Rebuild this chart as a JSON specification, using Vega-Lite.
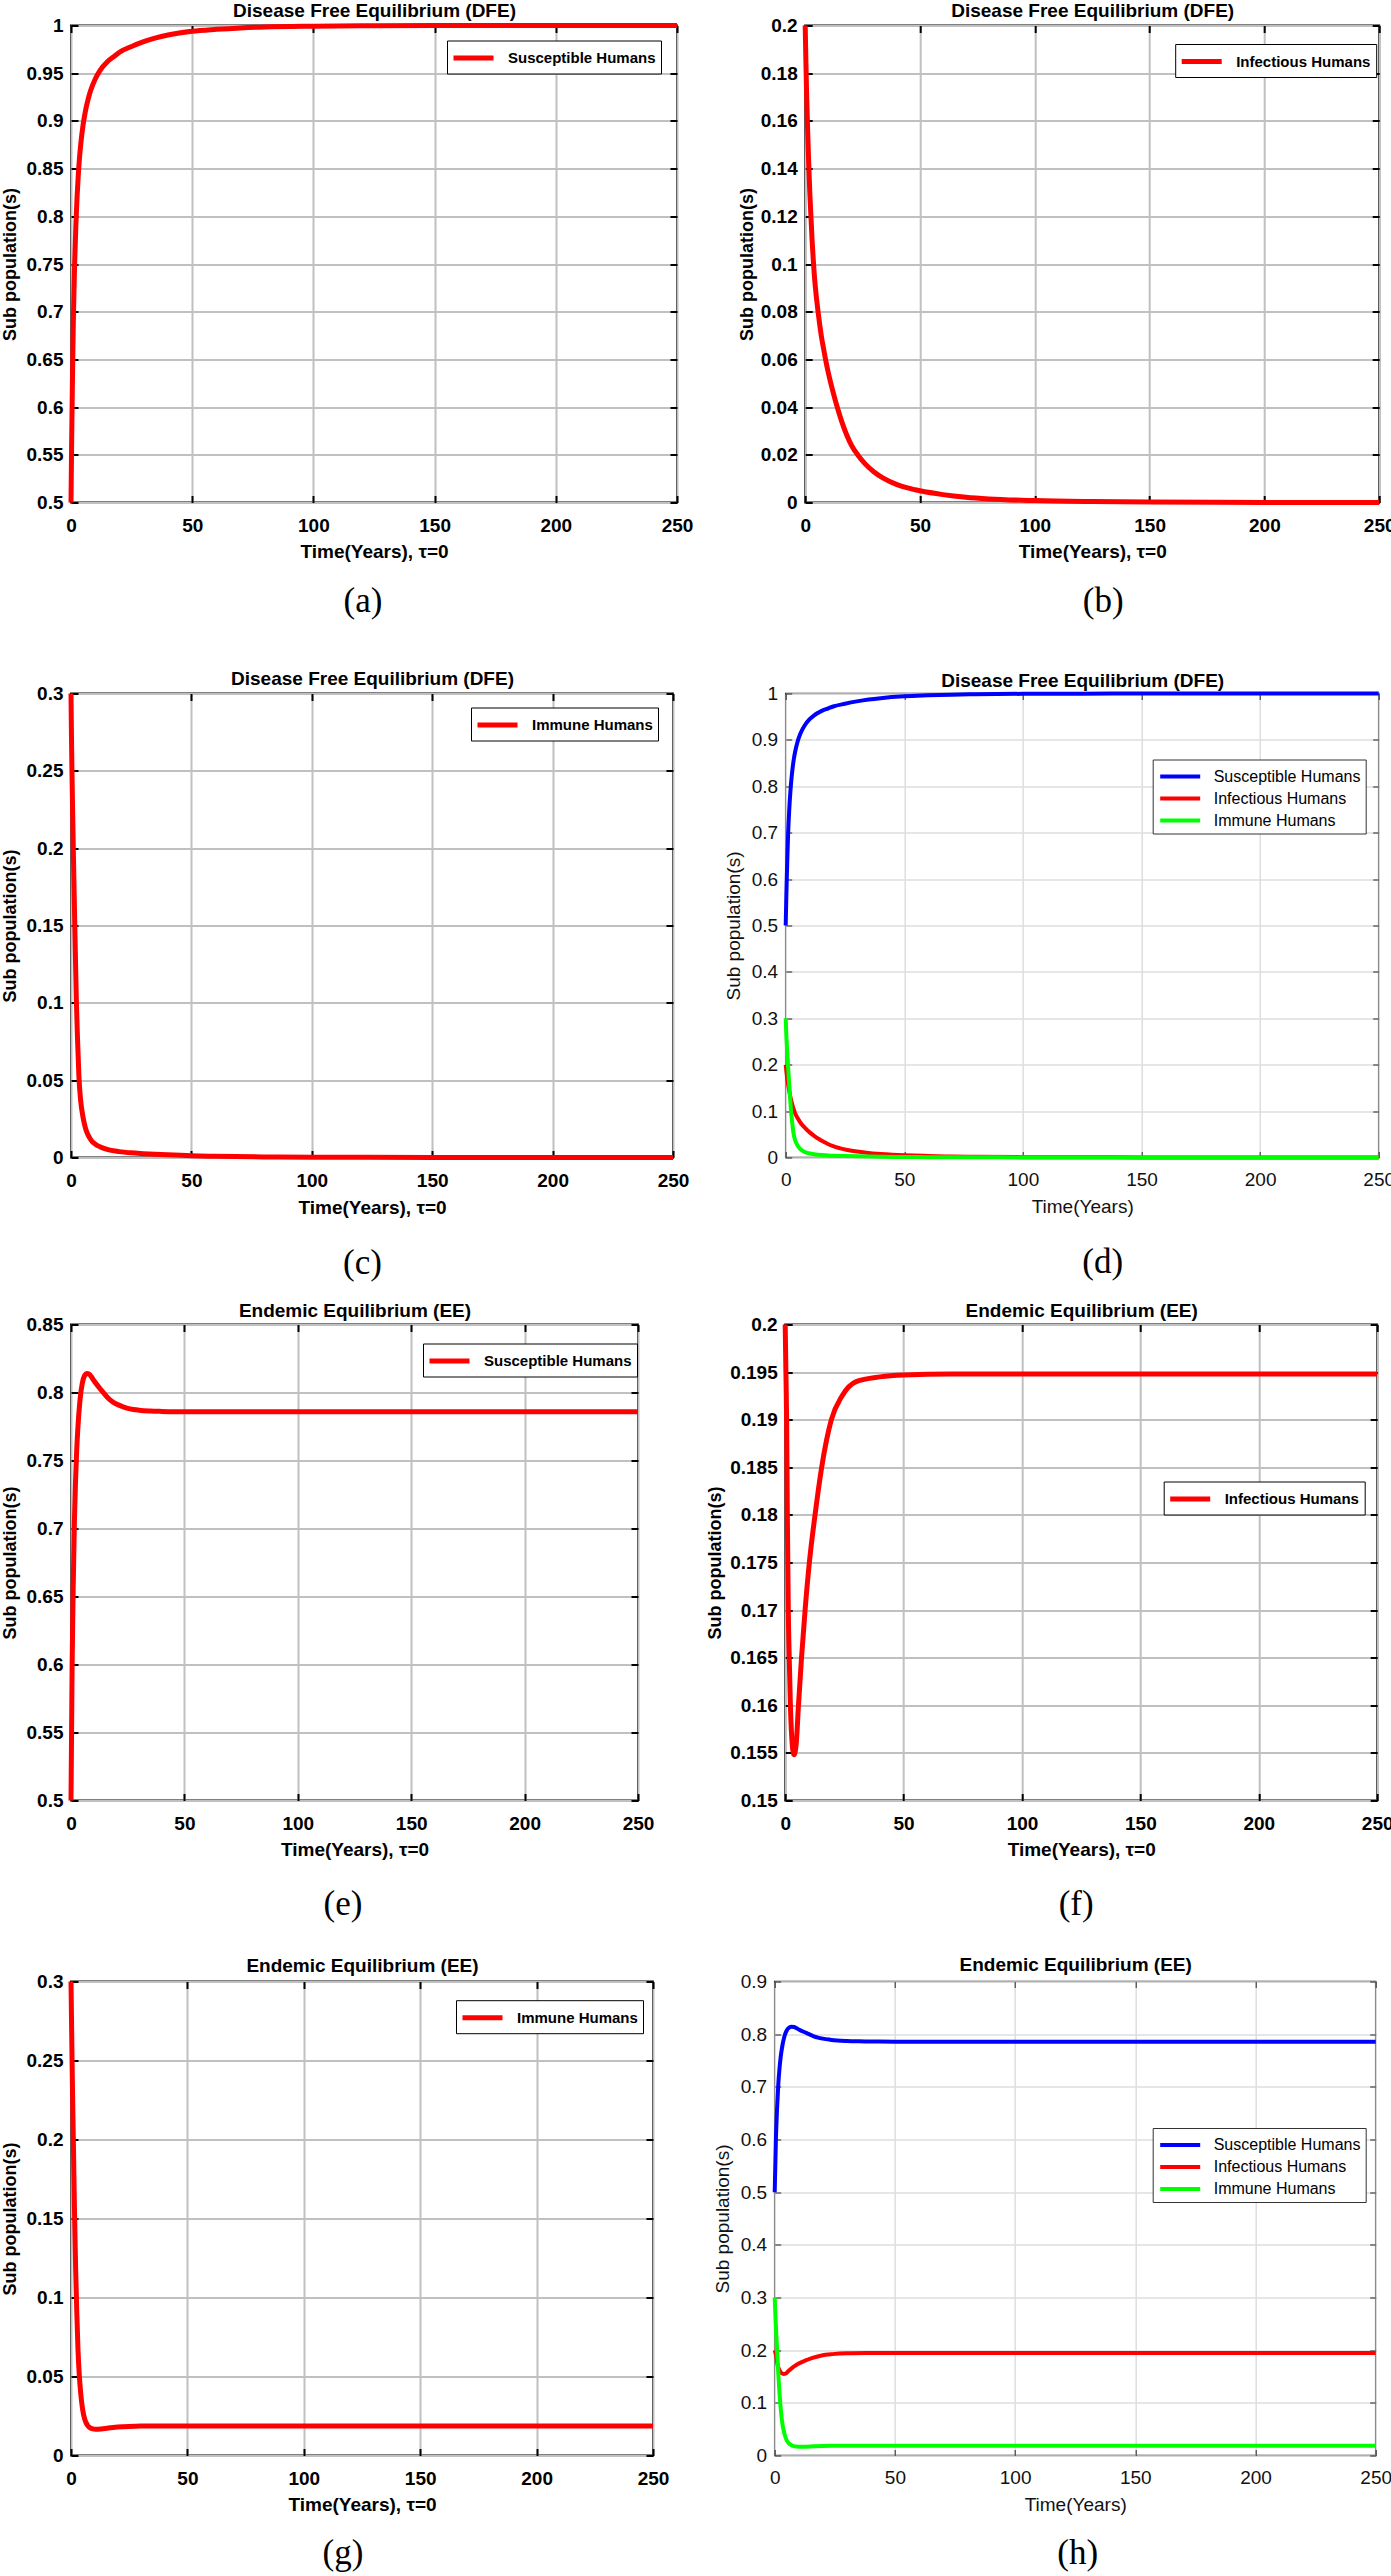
{
  "$schema": "https://vega.github.io/schema/vega-lite/v6.json",
  "padding": {"left": 0, "top": 0.5, "right": 0, "bottom": 0},
  "background": "white",
  "spacing": 18,
  "resolve": {"scale": {"color": "independent"}, "legend": {"color": "independent"}},
  "datasets": {
    "sdfe": [{"t":0,"v":0.5},{"t":0.25,"v":0.56},{"t":0.5,"v":0.61},{"t":0.75,"v":0.655},{"t":1,"v":0.695},{"t":1.5,"v":0.75},{"t":2,"v":0.79},{"t":2.5,"v":0.82},{"t":3,"v":0.843},{"t":3.5,"v":0.861},{"t":4,"v":0.875},{"t":5,"v":0.896},{"t":6,"v":0.911},{"t":7,"v":0.922},{"t":8,"v":0.931},{"t":10,"v":0.944},{"t":12,"v":0.953},{"t":15,"v":0.962},{"t":18,"v":0.968},{"t":20,"v":0.972},{"t":25,"v":0.978},{"t":30,"v":0.983},{"t":35,"v":0.987},{"t":40,"v":0.99},{"t":50,"v":0.994},{"t":60,"v":0.996},{"t":70,"v":0.9975},{"t":80,"v":0.9985},{"t":100,"v":0.9993},{"t":125,"v":0.9997},{"t":150,"v":0.9999},{"t":200,"v":1},{"t":250,"v":1}],
    "idfe": [{"t":0,"v":0.2},{"t":0.3,"v":0.185},{"t":0.6,"v":0.172},{"t":1,"v":0.158},{"t":1.5,"v":0.143},{"t":2,"v":0.13},{"t":2.5,"v":0.12},{"t":3,"v":0.11},{"t":3.5,"v":0.102},{"t":4,"v":0.095},{"t":5,"v":0.085},{"t":6,"v":0.077},{"t":7,"v":0.07},{"t":8,"v":0.0645},{"t":9,"v":0.0593},{"t":10,"v":0.0547},{"t":12,"v":0.0468},{"t":14,"v":0.0398},{"t":16,"v":0.0337},{"t":18,"v":0.0285},{"t":20,"v":0.0243},{"t":23,"v":0.0198},{"t":26,"v":0.0163},{"t":30,"v":0.0128},{"t":34,"v":0.0102},{"t":40,"v":0.0075},{"t":45,"v":0.006},{"t":50,"v":0.0049},{"t":60,"v":0.0033},{"t":70,"v":0.0022},{"t":80,"v":0.0015},{"t":100,"v":0.0008},{"t":125,"v":0.0004},{"t":150,"v":0.0002},{"t":200,"v":0.00005},{"t":250,"v":0}],
    "rdfe": [{"t":0,"v":0.3},{"t":0.2,"v":0.272},{"t":0.4,"v":0.25},{"t":0.7,"v":0.222},{"t":1,"v":0.196},{"t":1.3,"v":0.172},{"t":1.6,"v":0.148},{"t":1.9,"v":0.125},{"t":2.2,"v":0.103},{"t":2.7,"v":0.077},{"t":3.3,"v":0.052},{"t":4,"v":0.037},{"t":5,"v":0.026},{"t":6,"v":0.019},{"t":7,"v":0.0148},{"t":8.7,"v":0.0105},{"t":10,"v":0.0088},{"t":12,"v":0.007},{"t":15,"v":0.0052},{"t":20,"v":0.0038},{"t":25,"v":0.003},{"t":30,"v":0.0025},{"t":40,"v":0.0017},{"t":50,"v":0.0011},{"t":60,"v":0.0008},{"t":80,"v":0.0004},{"t":100,"v":0.0002},{"t":150,"v":0.00005},{"t":250,"v":0}],
    "see": [{"t":0,"v":0.5},{"t":0.5,"v":0.6},{"t":1,"v":0.66},{"t":1.5,"v":0.705},{"t":2,"v":0.735},{"t":2.5,"v":0.757},{"t":3,"v":0.773},{"t":4,"v":0.795},{"t":5,"v":0.807},{"t":6,"v":0.8125},{"t":7,"v":0.814},{"t":8,"v":0.8135},{"t":9,"v":0.8115},{"t":10,"v":0.809},{"t":12,"v":0.8045},{"t":14,"v":0.8005},{"t":16,"v":0.7965},{"t":18,"v":0.7935},{"t":20,"v":0.7915},{"t":23,"v":0.7895},{"t":26,"v":0.788},{"t":30,"v":0.787},{"t":35,"v":0.7864},{"t":40,"v":0.7861},{"t":50,"v":0.7858},{"t":100,"v":0.7858},{"t":250,"v":0.7858}],
    "iee": [{"t":0,"v":0.2},{"t":0.3,"v":0.195},{"t":0.6,"v":0.19},{"t":0.9,"v":0.18},{"t":1.3,"v":0.17},{"t":1.7,"v":0.165},{"t":2.2,"v":0.16},{"t":2.8,"v":0.1565},{"t":3.7,"v":0.1548},{"t":4.6,"v":0.1558},{"t":5.6,"v":0.16},{"t":6.9,"v":0.165},{"t":8.4,"v":0.17},{"t":10.2,"v":0.175},{"t":12.6,"v":0.18},{"t":15.4,"v":0.185},{"t":19.5,"v":0.19},{"t":24,"v":0.1925},{"t":30,"v":0.194},{"t":40,"v":0.1945},{"t":50,"v":0.1947},{"t":70,"v":0.1948},{"t":250,"v":0.1948}],
    "ree": [{"t":0,"v":0.3},{"t":0.5,"v":0.245},{"t":1,"v":0.2},{"t":1.5,"v":0.155},{"t":2,"v":0.118},{"t":2.5,"v":0.09},{"t":3,"v":0.067},{"t":3.6,"v":0.05},{"t":4.2,"v":0.039},{"t":5,"v":0.029},{"t":6,"v":0.0225},{"t":7,"v":0.0193},{"t":8,"v":0.0177},{"t":9,"v":0.017},{"t":10,"v":0.0167},{"t":11,"v":0.0166},{"t":13,"v":0.0168},{"t":16,"v":0.0174},{"t":20,"v":0.018},{"t":25,"v":0.0184},{"t":30,"v":0.0186},{"t":40,"v":0.0187},{"t":250,"v":0.0187}]
  },
  "vconcat": [
    {
      "spacing": 43.2,
      "resolve": {"scale": {"color": "independent"}, "legend": {"color": "independent"}},
      "hconcat": [
        {
          "width": 606, "height": 477,
          "view": {"stroke": "#000", "strokeWidth": 2},
          "title": {"text": ["(a)", ""], "orient": "bottom", "anchor": "middle", "frame": "group", "baseline": "top", "offset": 22.25, "dx": -11, "font": "Liberation Serif", "fontSize": 35, "fontWeight": "normal", "color": "#000", "lineHeight": 30},
          "layer": [
            {"data": {"name": "sdfe"}, "mark": {"type": "line", "strokeWidth": 5, "interpolate": "monotone"},
             "encoding": {
               "x": {"field": "t", "type": "quantitative", "scale": {"domain": [0, 250], "nice": false, "zero": false}, "axis": {"orient": "bottom", "values": [0,50,100,150,200,250], "format": "~r", "title": "Time(Years), τ=0", "titleY": 49}},
               "y": {"field": "v", "type": "quantitative", "scale": {"domain": [0.5, 1], "nice": false, "zero": false}, "axis": {"orient": "left", "values": [0.5,0.55,0.6,0.65,0.7,0.75,0.8,0.85,0.9,0.95,1], "format": "~r", "title": "Sub population(s)", "titleX": -61, "titleFontSize": 18}},
               "color": {"datum": "Susceptible Humans", "scale": {"range": ["#ff0000"]}, "legend": {"orient": "none", "legendX": 376, "legendY": 15, "title": null, "labelFont": "Liberation Sans", "labelFontSize": 15, "labelFontWeight": "bold", "labelColor": "#000", "symbolType": "M-2,0H2", "symbolSize": 400, "symbolStrokeWidth": 5, "symbolOffset": 9, "labelOffset": 22, "padding": 5, "strokeColor": "#000", "fillColor": "#fff", "labelLimit": 400}}
             }},
            {"data": {"name": "sdfe"}, "mark": {"type": "line", "opacity": 0},
             "encoding": {
               "x": {"field": "t", "type": "quantitative", "axis": {"orient": "top", "values": [0,50,100,150,200,250], "labels": false, "grid": false, "title": "Disease Free Equilibrium (DFE)", "titleY": -15}},
               "y": {"field": "v", "type": "quantitative", "axis": {"orient": "right", "values": [0.5,0.55,0.6,0.65,0.7,0.75,0.8,0.85,0.9,0.95,1], "labels": false, "grid": false, "title": null}}
             }}
          ],
          "resolve": {"axis": {"x": "independent", "y": "independent"}}
        },
        {
          "width": 574, "height": 477,
          "view": {"stroke": "#000", "strokeWidth": 2},
          "title": {"text": ["(b)", ""], "orient": "bottom", "anchor": "middle", "frame": "group", "baseline": "top", "offset": 22.25, "dx": 11, "font": "Liberation Serif", "fontSize": 35, "fontWeight": "normal", "color": "#000", "lineHeight": 30},
          "layer": [
            {"data": {"name": "idfe"}, "mark": {"type": "line", "strokeWidth": 5, "interpolate": "monotone"},
             "encoding": {
               "x": {"field": "t", "type": "quantitative", "scale": {"domain": [0, 250], "nice": false, "zero": false}, "axis": {"orient": "bottom", "values": [0,50,100,150,200,250], "format": "~r", "title": "Time(Years), τ=0", "titleY": 49}},
               "y": {"field": "v", "type": "quantitative", "scale": {"domain": [0, 0.2], "nice": false, "zero": false}, "axis": {"orient": "left", "values": [0,0.02,0.04,0.06,0.08,0.1,0.12,0.14,0.16,0.18,0.2], "format": "~r", "title": "Sub population(s)", "titleX": -58, "titleFontSize": 18}},
               "color": {"datum": "Infectious Humans", "scale": {"range": ["#ff0000"]}, "legend": {"orient": "none", "legendX": 370, "legendY": 18.5, "title": null, "labelFont": "Liberation Sans", "labelFontSize": 15, "labelFontWeight": "bold", "labelColor": "#000", "symbolType": "M-2,0H2", "symbolSize": 400, "symbolStrokeWidth": 5, "symbolOffset": 9, "labelOffset": 22, "padding": 5, "strokeColor": "#000", "fillColor": "#fff", "labelLimit": 400}}
             }},
            {"data": {"name": "idfe"}, "mark": {"type": "line", "opacity": 0},
             "encoding": {
               "x": {"field": "t", "type": "quantitative", "axis": {"orient": "top", "values": [0,50,100,150,200,250], "labels": false, "grid": false, "title": "Disease Free Equilibrium (DFE)", "titleY": -15}},
               "y": {"field": "v", "type": "quantitative", "axis": {"orient": "right", "values": [0,0.02,0.04,0.06,0.08,0.1,0.12,0.14,0.16,0.18,0.2], "labels": false, "grid": false, "title": null}}
             }}
          ],
          "resolve": {"axis": {"x": "independent", "y": "independent"}}
        }
      ]
    },
    {
      "spacing": 33.7,
      "resolve": {"scale": {"color": "independent"}, "legend": {"color": "independent"}},
      "hconcat": [
        {
          "width": 602, "height": 464,
          "view": {"stroke": "#000", "strokeWidth": 2},
          "title": {"text": "(c)", "orient": "bottom", "anchor": "middle", "frame": "group", "baseline": "top", "offset": 28.25, "dx": -9.5, "font": "Liberation Serif", "fontSize": 35, "fontWeight": "normal", "color": "#000"},
          "layer": [
            {"data": {"name": "rdfe"}, "mark": {"type": "line", "strokeWidth": 5, "interpolate": "monotone"},
             "encoding": {
               "x": {"field": "t", "type": "quantitative", "scale": {"domain": [0, 250], "nice": false, "zero": false}, "axis": {"orient": "bottom", "values": [0,50,100,150,200,250], "format": "~r", "title": "Time(Years), τ=0", "titleY": 50}},
               "y": {"field": "v", "type": "quantitative", "scale": {"domain": [0, 0.3], "nice": false, "zero": false}, "axis": {"orient": "left", "values": [0,0.05,0.1,0.15,0.2,0.25,0.3], "format": "~r", "title": "Sub population(s)", "titleX": -61, "titleFontSize": 18}},
               "color": {"datum": "Immune Humans", "scale": {"range": ["#ff0000"]}, "legend": {"orient": "none", "legendX": 400, "legendY": 14, "title": null, "labelFont": "Liberation Sans", "labelFontSize": 15, "labelFontWeight": "bold", "labelColor": "#000", "symbolType": "M-2,0H2", "symbolSize": 400, "symbolStrokeWidth": 5, "symbolOffset": 9, "labelOffset": 22, "padding": 5, "strokeColor": "#000", "fillColor": "#fff", "labelLimit": 400}}
             }},
            {"data": {"name": "rdfe"}, "mark": {"type": "line", "opacity": 0},
             "encoding": {
               "x": {"field": "t", "type": "quantitative", "axis": {"orient": "top", "values": [0,50,100,150,200,250], "labels": false, "grid": false, "title": "Disease Free Equilibrium (DFE)", "titleY": -15}},
               "y": {"field": "v", "type": "quantitative", "axis": {"orient": "right", "values": [0,0.05,0.1,0.15,0.2,0.25,0.3], "labels": false, "grid": false, "title": null}}
             }}
          ],
          "resolve": {"axis": {"x": "independent", "y": "independent"}}
        },
        {
          "width": 593, "height": 464,
          "view": {"stroke": "#262626", "strokeWidth": 1.5},
          "title": {"text": "(d)", "orient": "bottom", "anchor": "middle", "frame": "group", "baseline": "top", "offset": 28.25, "dx": 20.5, "font": "Liberation Serif", "fontSize": 35, "fontWeight": "normal", "color": "#000"},
          "layer": [
            {"data": {"name": "sdfe"}, "mark": {"type": "line", "strokeWidth": 4, "interpolate": "monotone"},
             "encoding": {
               "x": {"field": "t", "type": "quantitative", "scale": {"domain": [0, 250], "nice": false, "zero": false}, "axis": {"orient": "bottom", "values": [0,50,100,150,200,250], "format": "~r", "title": "Time(Years)", "titleY": 49, "labelFontWeight": "normal", "titleFontWeight": "normal", "labelColor": "#111", "titleColor": "#111", "tickColor": "#262626", "tickWidth": 1, "tickSize": -6, "gridColor": "#dedede", "gridWidth": 1.5, "labelPadding": 18.8}},
               "y": {"field": "v", "type": "quantitative", "scale": {"domain": [0, 1], "nice": false, "zero": false}, "axis": {"orient": "left", "values": [0,0.1,0.2,0.3,0.4,0.5,0.6,0.7,0.8,0.9,1], "format": "~r", "title": "Sub population(s)", "titleX": -52, "labelFontWeight": "normal", "titleFontWeight": "normal", "labelColor": "#111", "titleColor": "#111", "tickColor": "#262626", "tickWidth": 1, "tickSize": -6, "gridColor": "#dedede", "gridWidth": 1.5, "labelPadding": 14}},
               "color": {"datum": "Susceptible Humans", "scale": {"domain": ["Susceptible Humans", "Infectious Humans", "Immune Humans"], "range": ["#0000ff", "#ff0000", "#00ff00"]}, "legend": {"orient": "none", "legendX": 367, "legendY": 66, "title": null, "labelFont": "Liberation Sans", "labelFontSize": 16, "labelFontWeight": "normal", "labelColor": "#000", "symbolType": "M-2,0H2", "symbolSize": 400, "symbolStrokeWidth": 4, "symbolOffset": 10.5, "labelOffset": 21.5, "padding": 5, "rowPadding": 2, "strokeColor": "#333", "fillColor": "#fff", "labelLimit": 400}}
             }},
            {"data": {"name": "idfe"}, "mark": {"type": "line", "strokeWidth": 4, "interpolate": "monotone"},
             "encoding": {
               "x": {"field": "t", "type": "quantitative", "axis": null},
               "y": {"field": "v", "type": "quantitative", "axis": null},
               "color": {"datum": "Infectious Humans"}
             }},
            {"data": {"name": "rdfe"}, "mark": {"type": "line", "strokeWidth": 4, "interpolate": "monotone"},
             "encoding": {
               "x": {"field": "t", "type": "quantitative", "axis": null},
               "y": {"field": "v", "type": "quantitative", "axis": null},
               "color": {"datum": "Immune Humans"}
             }},
            {"data": {"name": "sdfe"}, "mark": {"type": "line", "opacity": 0},
             "encoding": {
               "x": {"field": "t", "type": "quantitative", "axis": {"orient": "top", "values": [0,50,100,150,200,250], "labels": false, "grid": false, "title": "Disease Free Equilibrium (DFE)", "titleY": -13, "tickColor": "#262626", "tickWidth": 1, "tickSize": -6}},
               "y": {"field": "v", "type": "quantitative", "axis": {"orient": "right", "values": [0,0.1,0.2,0.3,0.4,0.5,0.6,0.7,0.8,0.9,1], "labels": false, "grid": false, "title": null, "tickColor": "#262626", "tickWidth": 1, "tickSize": -6}}
             }}
          ],
          "resolve": {"axis": {"x": "independent", "y": "independent"}}
        }
      ]
    },
    {
      "spacing": 50.2,
      "resolve": {"scale": {"color": "independent"}, "legend": {"color": "independent"}},
      "hconcat": [
        {
          "width": 567, "height": 476,
          "view": {"stroke": "#000", "strokeWidth": 2},
          "title": {"text": ["(e)", ""], "orient": "bottom", "anchor": "middle", "frame": "group", "baseline": "top", "offset": 27.25, "dx": -11.5, "font": "Liberation Serif", "fontSize": 35, "fontWeight": "normal", "color": "#000", "lineHeight": 13},
          "layer": [
            {"data": {"name": "see"}, "mark": {"type": "line", "strokeWidth": 5, "interpolate": "monotone"},
             "encoding": {
               "x": {"field": "t", "type": "quantitative", "scale": {"domain": [0, 250], "nice": false, "zero": false}, "axis": {"orient": "bottom", "values": [0,50,100,150,200,250], "format": "~r", "title": "Time(Years), τ=0", "titleY": 49}},
               "y": {"field": "v", "type": "quantitative", "scale": {"domain": [0.5, 0.85], "nice": false, "zero": false}, "axis": {"orient": "left", "values": [0.5,0.55,0.6,0.65,0.7,0.75,0.8,0.85], "format": "~r", "title": "Sub population(s)", "titleX": -61, "titleFontSize": 18}},
               "color": {"datum": "Susceptible Humans", "scale": {"range": ["#ff0000"]}, "legend": {"orient": "none", "legendX": 352, "legendY": 19, "title": null, "labelFont": "Liberation Sans", "labelFontSize": 15, "labelFontWeight": "bold", "labelColor": "#000", "symbolType": "M-2,0H2", "symbolSize": 400, "symbolStrokeWidth": 5, "symbolOffset": 9, "labelOffset": 22, "padding": 5, "strokeColor": "#000", "fillColor": "#fff", "labelLimit": 400}}
             }},
            {"data": {"name": "see"}, "mark": {"type": "line", "opacity": 0},
             "encoding": {
               "x": {"field": "t", "type": "quantitative", "axis": {"orient": "top", "values": [0,50,100,150,200,250], "labels": false, "grid": false, "title": "Endemic Equilibrium (EE)", "titleY": -14}},
               "y": {"field": "v", "type": "quantitative", "axis": {"orient": "right", "values": [0.5,0.55,0.6,0.65,0.7,0.75,0.8,0.85], "labels": false, "grid": false, "title": null}}
             }}
          ],
          "resolve": {"axis": {"x": "independent", "y": "independent"}}
        },
        {
          "width": 592, "height": 476,
          "view": {"stroke": "#000", "strokeWidth": 2},
          "title": {"text": ["(f)", ""], "orient": "bottom", "anchor": "middle", "frame": "group", "baseline": "top", "offset": 27.25, "dx": -5, "font": "Liberation Serif", "fontSize": 35, "fontWeight": "normal", "color": "#000", "lineHeight": 13},
          "layer": [
            {"data": {"name": "iee"}, "mark": {"type": "line", "strokeWidth": 5, "interpolate": "monotone"},
             "encoding": {
               "x": {"field": "t", "type": "quantitative", "scale": {"domain": [0, 250], "nice": false, "zero": false}, "axis": {"orient": "bottom", "values": [0,50,100,150,200,250], "format": "~r", "title": "Time(Years), τ=0", "titleY": 49}},
               "y": {"field": "v", "type": "quantitative", "scale": {"domain": [0.15, 0.2], "nice": false, "zero": false}, "axis": {"orient": "left", "values": [0.15,0.155,0.16,0.165,0.17,0.175,0.18,0.185,0.19,0.195,0.2], "format": "~r", "title": "Sub population(s)", "titleX": -70, "titleFontSize": 18}},
               "color": {"datum": "Infectious Humans", "scale": {"range": ["#ff0000"]}, "legend": {"orient": "none", "legendX": 378.5, "legendY": 157, "title": null, "labelFont": "Liberation Sans", "labelFontSize": 15, "labelFontWeight": "bold", "labelColor": "#000", "symbolType": "M-2,0H2", "symbolSize": 400, "symbolStrokeWidth": 5, "symbolOffset": 9, "labelOffset": 22, "padding": 5, "strokeColor": "#000", "fillColor": "#fff", "labelLimit": 400}}
             }},
            {"data": {"name": "iee"}, "mark": {"type": "line", "opacity": 0},
             "encoding": {
               "x": {"field": "t", "type": "quantitative", "axis": {"orient": "top", "values": [0,50,100,150,200,250], "labels": false, "grid": false, "title": "Endemic Equilibrium (EE)", "titleY": -14}},
               "y": {"field": "v", "type": "quantitative", "axis": {"orient": "right", "values": [0.15,0.155,0.16,0.165,0.17,0.175,0.18,0.185,0.19,0.195,0.2], "labels": false, "grid": false, "title": null}}
             }}
          ],
          "resolve": {"axis": {"x": "independent", "y": "independent"}}
        }
      ]
    },
    {
      "spacing": 42.7,
      "resolve": {"scale": {"color": "independent"}, "legend": {"color": "independent"}},
      "hconcat": [
        {
          "width": 582, "height": 474,
          "view": {"stroke": "#000", "strokeWidth": 2},
          "title": {"text": "(g)", "orient": "bottom", "anchor": "middle", "frame": "group", "baseline": "top", "offset": 21.25, "dx": -19, "font": "Liberation Serif", "fontSize": 35, "fontWeight": "normal", "color": "#000"},
          "layer": [
            {"data": {"name": "ree"}, "mark": {"type": "line", "strokeWidth": 5, "interpolate": "monotone"},
             "encoding": {
               "x": {"field": "t", "type": "quantitative", "scale": {"domain": [0, 250], "nice": false, "zero": false}, "axis": {"orient": "bottom", "values": [0,50,100,150,200,250], "format": "~r", "title": "Time(Years), τ=0", "titleY": 49}},
               "y": {"field": "v", "type": "quantitative", "scale": {"domain": [0, 0.3], "nice": false, "zero": false}, "axis": {"orient": "left", "values": [0,0.05,0.1,0.15,0.2,0.25,0.3], "format": "~r", "title": "Sub population(s)", "titleX": -61, "titleFontSize": 18}},
               "color": {"datum": "Immune Humans", "scale": {"range": ["#ff0000"]}, "legend": {"orient": "none", "legendX": 385, "legendY": 18.7, "title": null, "labelFont": "Liberation Sans", "labelFontSize": 15, "labelFontWeight": "bold", "labelColor": "#000", "symbolType": "M-2,0H2", "symbolSize": 400, "symbolStrokeWidth": 5, "symbolOffset": 9, "labelOffset": 22, "padding": 5, "strokeColor": "#000", "fillColor": "#fff", "labelLimit": 400}}
             }},
            {"data": {"name": "ree"}, "mark": {"type": "line", "opacity": 0},
             "encoding": {
               "x": {"field": "t", "type": "quantitative", "axis": {"orient": "top", "values": [0,50,100,150,200,250], "labels": false, "grid": false, "title": "Endemic Equilibrium (EE)", "titleY": -16}},
               "y": {"field": "v", "type": "quantitative", "axis": {"orient": "right", "values": [0,0.05,0.1,0.15,0.2,0.25,0.3], "labels": false, "grid": false, "title": null}}
             }}
          ],
          "resolve": {"axis": {"x": "independent", "y": "independent"}}
        },
        {
          "width": 601, "height": 474,
          "view": {"stroke": "#262626", "strokeWidth": 1.5},
          "title": {"text": "(h)", "orient": "bottom", "anchor": "middle", "frame": "group", "baseline": "top", "offset": 21.25, "dx": 2.5, "font": "Liberation Serif", "fontSize": 35, "fontWeight": "normal", "color": "#000"},
          "layer": [
            {"data": {"name": "see"}, "mark": {"type": "line", "strokeWidth": 4, "interpolate": "monotone"},
             "encoding": {
               "x": {"field": "t", "type": "quantitative", "scale": {"domain": [0, 250], "nice": false, "zero": false}, "axis": {"orient": "bottom", "values": [0,50,100,150,200,250], "format": "~r", "title": "Time(Years)", "titleY": 49, "labelFontWeight": "normal", "titleFontWeight": "normal", "labelColor": "#111", "titleColor": "#111", "tickColor": "#262626", "tickWidth": 1, "tickSize": -6, "gridColor": "#dedede", "gridWidth": 1.5, "labelPadding": 18.8}},
               "y": {"field": "v", "type": "quantitative", "scale": {"domain": [0, 0.9], "nice": false, "zero": false}, "axis": {"orient": "left", "values": [0,0.1,0.2,0.3,0.4,0.5,0.6,0.7,0.8,0.9], "format": "~r", "title": "Sub population(s)", "titleX": -52, "labelFontWeight": "normal", "titleFontWeight": "normal", "labelColor": "#111", "titleColor": "#111", "tickColor": "#262626", "tickWidth": 1, "tickSize": -6, "gridColor": "#dedede", "gridWidth": 1.5, "labelPadding": 14}},
               "color": {"datum": "Susceptible Humans", "scale": {"domain": ["Susceptible Humans", "Infectious Humans", "Immune Humans"], "range": ["#0000ff", "#ff0000", "#00ff00"]}, "legend": {"orient": "none", "legendX": 378, "legendY": 146.5, "title": null, "labelFont": "Liberation Sans", "labelFontSize": 16, "labelFontWeight": "normal", "labelColor": "#000", "symbolType": "M-2,0H2", "symbolSize": 400, "symbolStrokeWidth": 4, "symbolOffset": 10.5, "labelOffset": 21.5, "padding": 5, "rowPadding": 2, "strokeColor": "#333", "fillColor": "#fff", "labelLimit": 400}}
             }},
            {"data": {"name": "iee"}, "mark": {"type": "line", "strokeWidth": 4, "interpolate": "monotone"},
             "encoding": {
               "x": {"field": "t", "type": "quantitative", "axis": null},
               "y": {"field": "v", "type": "quantitative", "axis": null},
               "color": {"datum": "Infectious Humans"}
             }},
            {"data": {"name": "ree"}, "mark": {"type": "line", "strokeWidth": 4, "interpolate": "monotone"},
             "encoding": {
               "x": {"field": "t", "type": "quantitative", "axis": null},
               "y": {"field": "v", "type": "quantitative", "axis": null},
               "color": {"datum": "Immune Humans"}
             }},
            {"data": {"name": "see"}, "mark": {"type": "line", "opacity": 0},
             "encoding": {
               "x": {"field": "t", "type": "quantitative", "axis": {"orient": "top", "values": [0,50,100,150,200,250], "labels": false, "grid": false, "title": "Endemic Equilibrium (EE)", "titleY": -17, "tickColor": "#262626", "tickWidth": 1, "tickSize": -6}},
               "y": {"field": "v", "type": "quantitative", "axis": {"orient": "right", "values": [0,0.1,0.2,0.3,0.4,0.5,0.6,0.7,0.8,0.9], "labels": false, "grid": false, "title": null, "tickColor": "#262626", "tickWidth": 1, "tickSize": -6}}
             }}
          ],
          "resolve": {"axis": {"x": "independent", "y": "independent"}}
        }
      ]
    }
  ],
  "config": {
    "font": "Liberation Sans",
    "axis": {"labelFont": "Liberation Sans", "labelFontSize": 19, "labelFontWeight": "bold", "labelColor": "#000", "titleFont": "Liberation Sans", "titleFontSize": 19, "titleFontWeight": "bold", "titleColor": "#000", "titleBaseline": "middle", "labelFlush": false, "labelOverlap": false, "labelBound": false, "domain": false, "tickSize": -7, "tickWidth": 2, "tickColor": "#000", "gridColor": "#c0c0c0", "gridWidth": 2},
    "axisX": {"labelPadding": 20.5},
    "axisY": {"labelPadding": 15}
  }
}
